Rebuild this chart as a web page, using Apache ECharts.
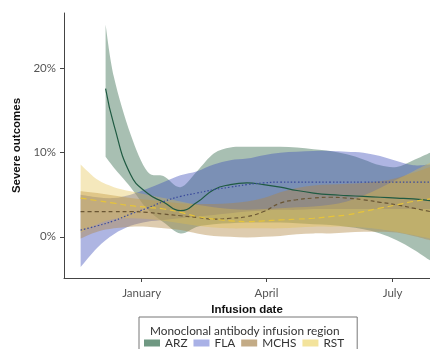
<!DOCTYPE html>
<html>
<head>
<meta charset="utf-8">
<script src="https://cdn.jsdelivr.net/npm/echarts@6/dist/echarts.min.js"></script>
<style>
html,body{margin:0;padding:0;background:#fff;}
#chart{width:430px;height:349px;}
</style>
</head>
<body>
<div id="chart"></div>
<script>
// ---- data (percent) ----
const dates = ['2020-11-18','2020-11-30','2020-12-12','2020-12-24','2021-01-05','2021-01-17','2021-01-29','2021-02-10','2021-02-22','2021-03-06','2021-03-18','2021-03-30','2021-04-11','2021-04-23','2021-05-05','2021-05-17','2021-05-29','2021-06-10','2021-06-22','2021-07-04','2021-07-16','2021-07-28'];
const arzDates = ['2020-12-06','2020-12-12','2020-12-24','2021-01-05','2021-01-17','2021-01-29','2021-02-10','2021-02-22','2021-03-06','2021-03-18','2021-03-30','2021-04-11','2021-04-23','2021-05-05','2021-05-17','2021-05-29','2021-06-10','2021-06-22','2021-07-04','2021-07-16','2021-07-28'];

const arzMean  = [17.6, 13.3, 7.4, 5.2, 4.1, 3.1, 4.1, 5.6, 6.2, 6.4, 6.2, 5.9, 5.5, 5.2, 5.0, 4.9, 4.8, 4.7, 4.6, 4.5, 4.3];
const arzUpper = [25.2, 19.0, 12.2, 7.8, 7.2, 5.9, 7.8, 9.9, 10.6, 10.7, 10.7, 10.7, 10.6, 10.4, 10.2, 9.8, 9.2, 8.5, 8.3, 9.1, 10.0];
const arzLower = [9.5, 8.2, 5.9, 3.3, 1.7, 0.4, 1.2, 1.5, 1.6, 1.7, 1.7, 1.7, 1.6, 1.5, 1.4, 1.2, 0.9, 0.4, -0.4, -1.5, -2.8];

const flaMean  = [0.8, 1.3, 1.9, 2.7, 3.4, 4.2, 4.8, 5.2, 5.6, 5.9, 6.2, 6.4, 6.5, 6.5, 6.5, 6.5, 6.5, 6.5, 6.5, 6.5, 6.5, 6.5];
const flaUpper = [5.0, 4.7, 4.6, 5.0, 5.7, 6.5, 7.3, 7.8, 8.6, 9.1, 9.3, 9.7, 10.0, 10.1, 10.2, 10.2, 10.1, 10.0, 9.6, 9.0, 8.5, 8.6];
const flaLower = [-3.6, -1.3, 0.3, 1.3, 1.8, 2.0, 2.2, 2.4, 2.6, 2.8, 3.0, 3.1, 3.2, 3.2, 3.3, 3.3, 3.3, 3.3, 3.3, 3.3, 3.3, 3.3];

const mchsMean  = [3.0, 3.0, 3.0, 3.0, 2.9, 2.7, 2.5, 2.3, 2.1, 2.2, 2.4, 3.0, 4.0, 4.4, 4.6, 4.7, 4.6, 4.4, 4.1, 3.8, 3.4, 3.0];
const mchsUpper = [5.4, 5.2, 4.9, 4.6, 4.4, 4.2, 4.0, 3.9, 3.9, 4.0, 4.2, 4.6, 5.3, 5.8, 6.1, 6.2, 6.3, 6.4, 6.6, 7.0, 7.6, 8.3];
const mchsLower = [-0.2, 0.6, 1.0, 1.2, 1.2, 1.0, 0.8, 0.4, 0.1, 0.0, -0.1, 0.0, 0.1, 0.3, 0.4, 0.4, 0.5, 0.6, 0.6, 0.5, 0.1, -0.4];

const rstMean  = [4.6, 4.3, 4.0, 3.7, 3.5, 3.3, 2.9, 2.4, 2.1, 1.9, 1.8, 1.9, 2.0, 2.1, 2.2, 2.4, 2.6, 3.0, 3.4, 3.8, 4.2, 4.5];
const rstUpper = [8.6, 6.8, 5.9, 5.4, 5.0, 4.6, 4.2, 3.8, 3.5, 3.3, 3.2, 3.3, 3.4, 3.5, 3.6, 3.8, 4.2, 4.9, 5.8, 6.8, 7.8, 8.8];
const rstLower = [0.5, 1.5, 2.1, 2.2, 2.1, 1.9, 1.6, 1.3, 1.1, 1.0, 1.0, 1.0, 1.0, 1.1, 1.2, 1.2, 1.2, 1.1, 0.9, 0.6, 0.2, -0.2];

const xMinDate = '2020-11-06', xMaxDate = '2021-07-28';
const yMin = -4.9, yMax = 26.6;
const xTickDates  = ['2021-01-01', '2021-04-01', '2021-07-01'];
const xTickLabels = ['January', 'April', 'July'];
const yTickValues = ['0.0', '10.0', '20.0'];
const yTickLabels = ['0%', '10%', '20%'];
const regionNames = ['ARZ', 'FLA', 'MCHS', 'RST'];

// ---- styling ----
const regions = [
  {name:'ARZ',  x: arzDates, mean: arzMean, lo: arzLower, hi: arzUpper, fill:'rgba(62,112,84,0.45)',  line:'#1f5a42', type:'solid',  key:'#6f9882'},
  {name:'FLA',  x: dates,    mean: flaMean, lo: flaLower, hi: flaUpper, fill:'rgba(62,79,186,0.42)',  line:'#3a4a9c', type:[1.5,2], key:'#a9b1e6'},
  {name:'MCHS', x: dates,    mean: mchsMean, lo: mchsLower, hi: mchsUpper, fill:'rgba(176,134,64,0.42)', line:'#6a5634', type:[4,3], key:'#c3ab86'},
  {name:'RST',  x: dates,    mean: rstMean, lo: rstLower, hi: rstUpper, fill:'rgba(226,192,70,0.36)', line:'#e6c43a', type:[6,4], key:'#f3e39c'}
];

const T = s => Date.UTC(+s.slice(0,4), +s.slice(5,7) - 1, +s.slice(8,10));
const DAY = 86400000;
const fmt = t => new Date(t).toISOString().slice(0, 10);
// tick axes: one category per day / per 0.1 percentage point (only the listed ones get ticks)
const dayCats = [];
for (let t = T(xMinDate); t <= T(xMaxDate); t += DAY) dayCats.push(fmt(t));
const pctCats = [];
for (let k = Math.round(yMin * 10); k <= Math.round(yMax * 10); k++) pctCats.push((k / 10).toFixed(1));

// Catmull-Rom spline through pixel points -> path commands
function splinePath(pts, moveFirst) {
  let d = (moveFirst ? 'M' : 'L') + pts[0][0].toFixed(2) + ',' + pts[0][1].toFixed(2);
  const n = pts.length;
  for (let i = 0; i < n - 1; i++) {
    const p0 = pts[Math.max(i - 1, 0)], p1 = pts[i], p2 = pts[i + 1], p3 = pts[Math.min(i + 2, n - 1)];
    const c1x = p1[0] + (p2[0] - p0[0]) / 6, c1y = p1[1] + (p2[1] - p0[1]) / 6;
    const c2x = p2[0] - (p3[0] - p1[0]) / 6, c2y = p2[1] - (p3[1] - p1[1]) / 6;
    d += 'C' + c1x.toFixed(2) + ',' + c1y.toFixed(2) + ',' + c2x.toFixed(2) + ',' + c2y.toFixed(2) + ',' + p2[0].toFixed(2) + ',' + p2[1].toFixed(2);
  }
  return d;
}

const series = [];
regions.forEach(r => {
  series.push({
    name: r.name + ' band', type: 'custom', silent: true, z: 2,
    xAxisIndex: 0, yAxisIndex: 0,
    data: r.x.map((d, i) => [T(d), r.lo[i], r.hi[i]]),
    encode: {x: 0, y: [1, 2]},
    renderItem: (params, api) => {
      if (params.dataIndex !== 0) return null;
      const up = r.x.map((d, i) => api.coord([T(d), r.hi[i]]));
      const lo = r.x.map((d, i) => api.coord([T(d), r.lo[i]])).reverse();
      const cs = params.coordSys;
      return {
        type: 'path',
        shape: {pathData: splinePath(up, true) + splinePath(lo, false) + 'Z'},
        style: {fill: r.fill, stroke: null},
        clipPath: {type: 'rect', shape: {x: cs.x, y: cs.y, width: cs.width, height: cs.height}}
      };
    }
  });
});
regions.forEach(r => {
  series.push({
    name: r.name, type: 'line', xAxisIndex: 0, yAxisIndex: 0,
    data: r.x.map((d, i) => [T(d), r.mean[i]]),
    smooth: 0.5, symbol: 'none',
    lineStyle: {color: r.line, width: 1.2, type: r.type}, silent: true, z: 3
  });
});

const axisFont = {fontFamily: 'Lato', fontSize: 11.5, color: '#555'};
const nameFont = {fontFamily: 'Liberation Sans', fontWeight: 'bold', fontSize: 11.5, color: '#111'};
const chart = echarts.init(document.getElementById('chart'), null, {renderer: 'canvas'});
chart.setOption({
  animation: false,
  backgroundColor: '#fff',
  grid: {left: 64, right: 0, top: 13, bottom: 71, containLabel: false},
  title: {
    text: 'Monoclonal antibody infusion region',
    left: 145, top: 320,
    textStyle: {fontFamily: 'Lato', fontSize: 11.8, fontWeight: 'normal', color: '#333'}
  },
  legend: {
    data: regionNames.map(n => {
      const r = regions.find(q => q.name === n);
      return {name: n, icon: 'rect', itemStyle: {color: r.key, borderWidth: 0}};
    }),
    left: 139, top: 317,
    padding: [20, 13, 8, 5],
    itemWidth: 16, itemHeight: 7, itemGap: 6,
    borderColor: '#777', borderWidth: 1,
    textStyle: {fontFamily: 'Lato', fontSize: 11.8, color: '#333'},
    selectedMode: false
  },
  xAxis: [
    {
      type: 'value', show: false,
      min: T(xMinDate), max: T(xMaxDate)
    },
    {
      type: 'category', position: 'bottom', data: dayCats, boundaryGap: false,
      name: 'Infusion date', nameLocation: 'middle', nameGap: 23, nameTextStyle: nameFont,
      axisLine: {show: true, onZero: false, lineStyle: {color: '#444', width: 1}},
      axisTick: {show: true, length: 4, lineStyle: {color: '#444', width: 1},
        interval: (i, v) => xTickDates.indexOf(v) >= 0},
      axisLabel: Object.assign({margin: 9,
        interval: (i, v) => xTickDates.indexOf(v) >= 0,
        formatter: v => { const i = xTickDates.indexOf(v); return i >= 0 ? xTickLabels[i] : ''; }}, axisFont),
      splitLine: {show: false}
    }
  ],
  yAxis: [
    {
      type: 'value', show: false, min: yMin, max: yMax
    },
    {
      type: 'category', position: 'left', data: pctCats, boundaryGap: false,
      name: 'Severe outcomes', nameLocation: 'middle', nameGap: 40, nameRotate: 90, nameTextStyle: nameFont,
      axisLine: {show: true, onZero: false, lineStyle: {color: '#444', width: 1}},
      axisTick: {show: true, length: 4, lineStyle: {color: '#444', width: 1},
        interval: (i, v) => yTickValues.indexOf(v) >= 0},
      axisLabel: Object.assign({margin: 8,
        interval: (i, v) => yTickValues.indexOf(v) >= 0,
        formatter: v => { const i = yTickValues.indexOf(v); return i >= 0 ? yTickLabels[i] : ''; }}, axisFont),
      splitLine: {show: false}
    }
  ],
  series: series
});
</script>
</body>
</html>
